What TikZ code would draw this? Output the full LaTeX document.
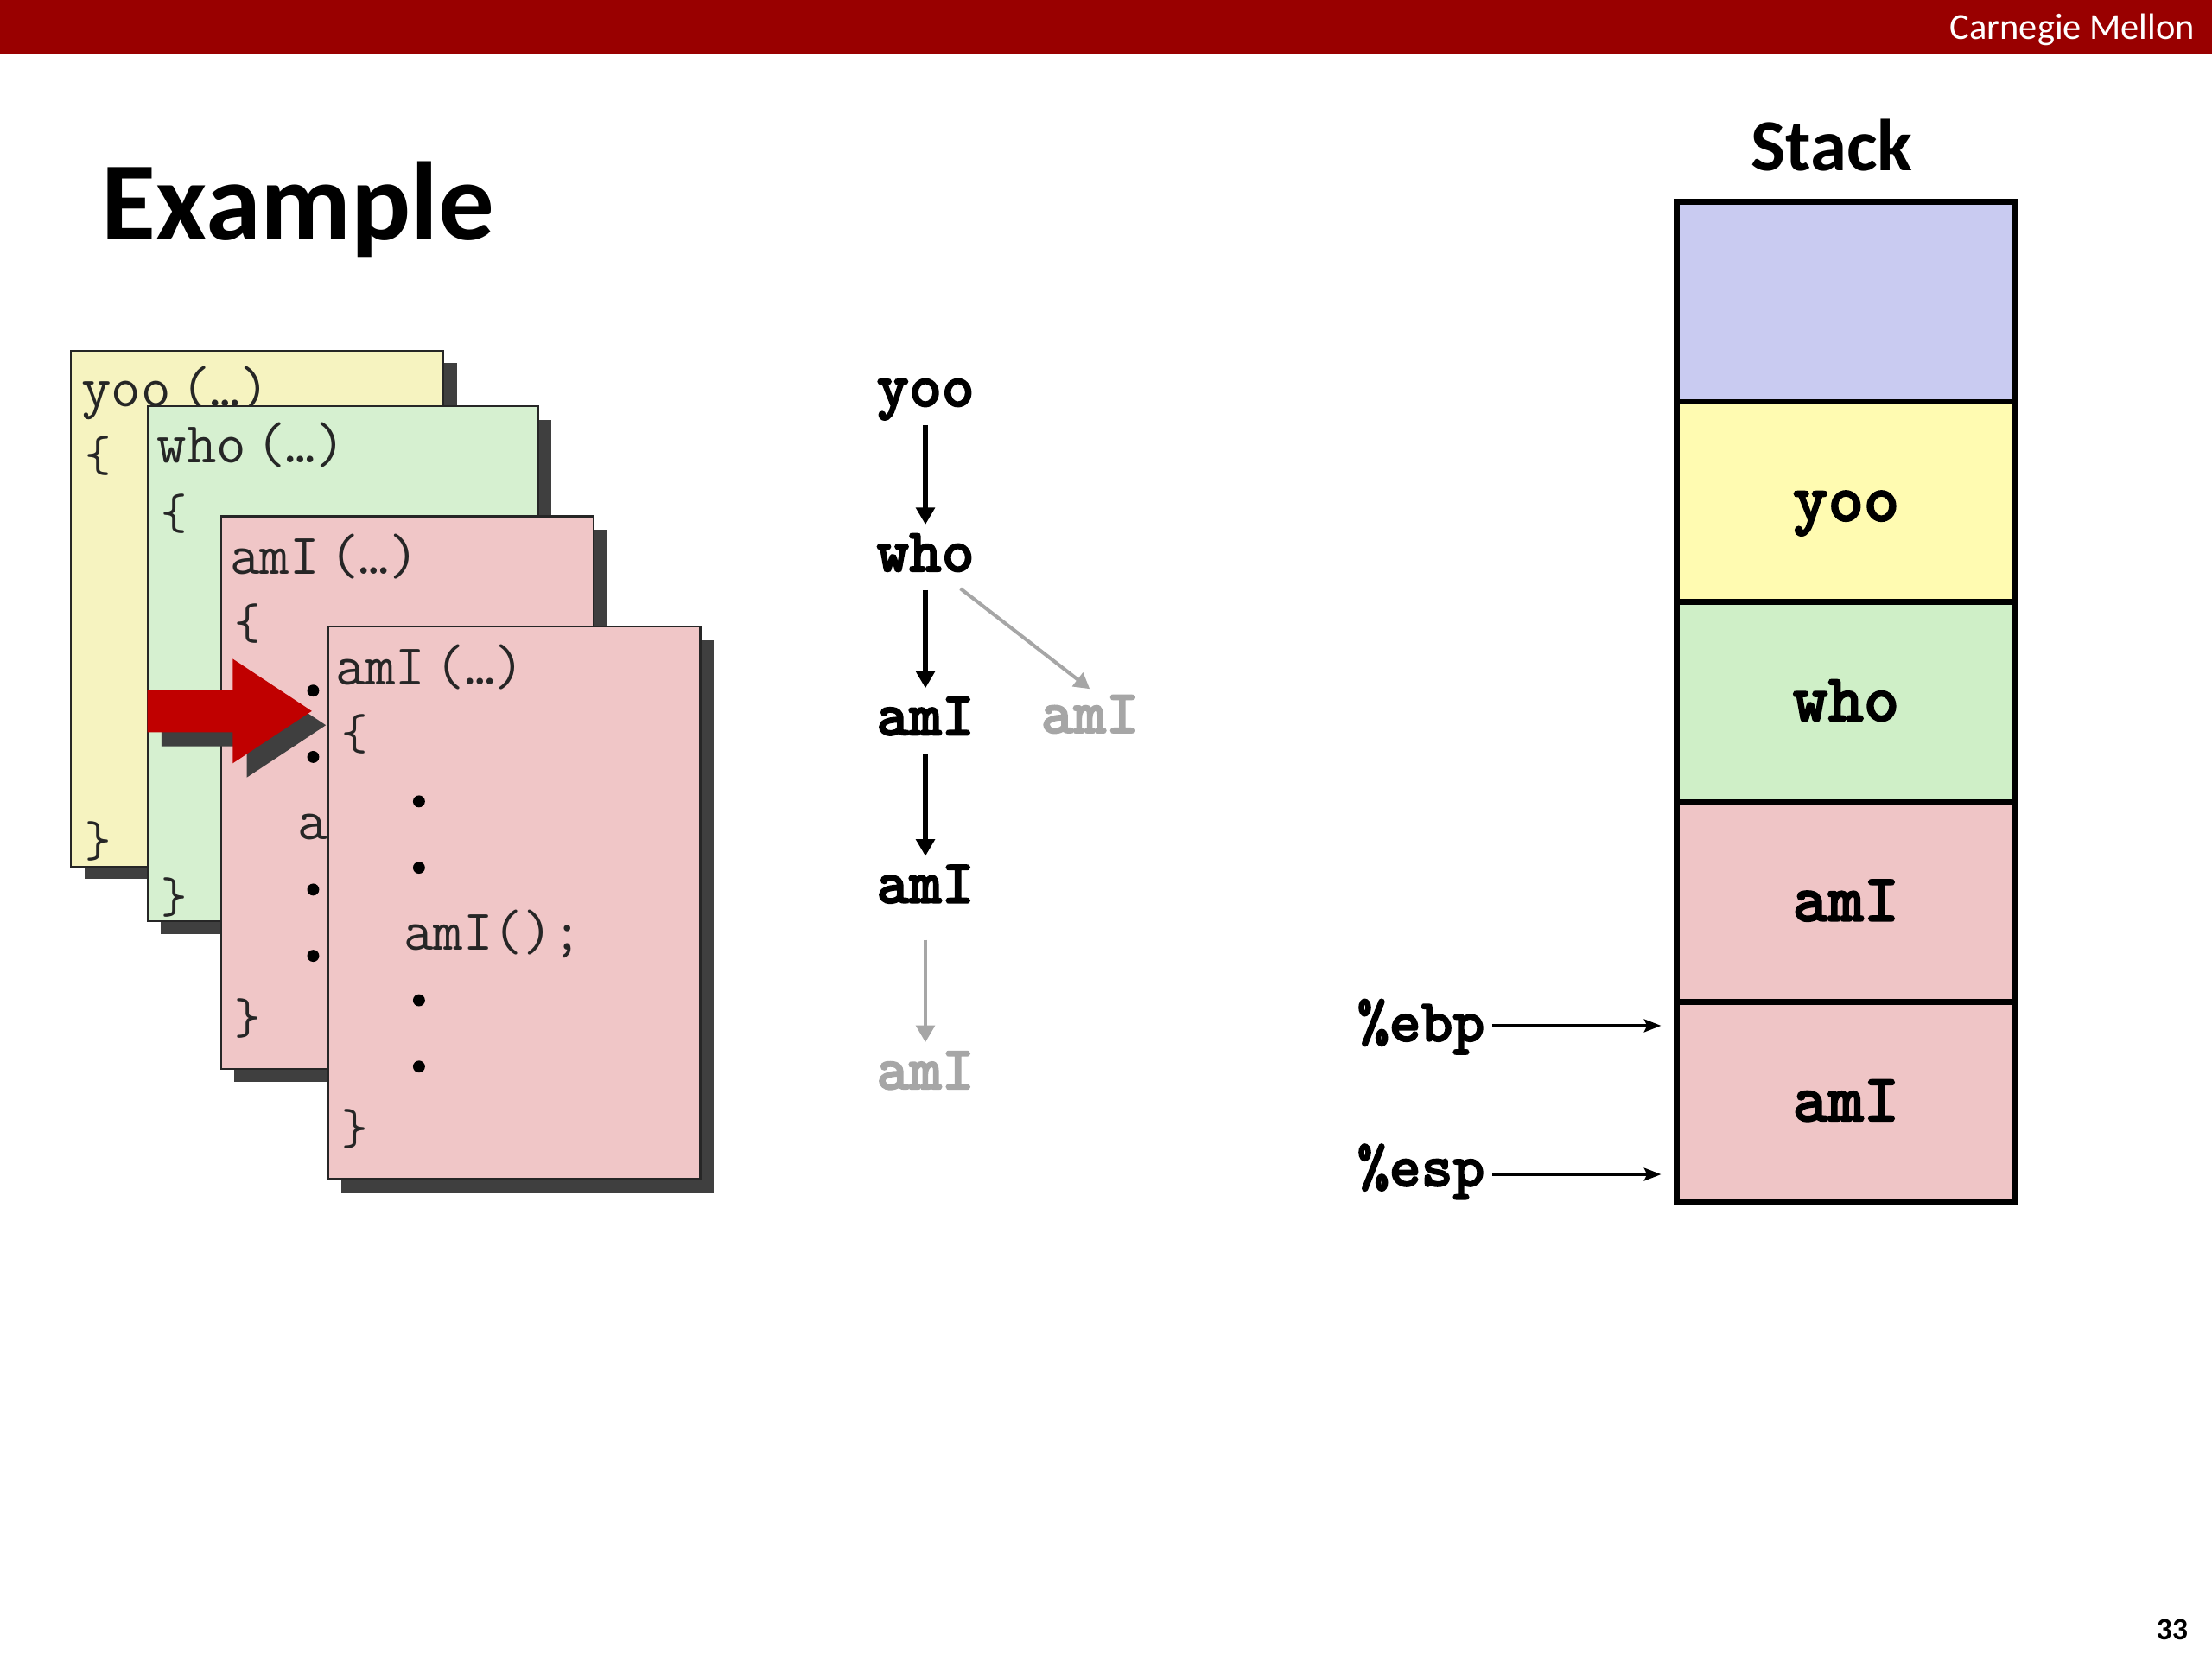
\documentclass[tikz,border=0pt]{standalone}
\usepackage{fontspec}
\setmainfont{Carlito}
\newfontfamily\bmono{lmmonolt10-bold.otf}[FakeBold=2.2]
\usetikzlibrary{arrows.meta}
\definecolor{barred}{HTML}{990000}
\definecolor{cardyel}{HTML}{F6F3C0}
\definecolor{cardgrn}{HTML}{D6F0D0}
\definecolor{cardpnk}{HTML}{F0C6C7}
\definecolor{stblue}{HTML}{C9CBF1}
\definecolor{styel}{HTML}{FFFBB1}
\definecolor{stgrn}{HTML}{CFEFC7}
\definecolor{stpnk}{HTML}{EFC5C6}
\definecolor{shadowgray}{HTML}{3F3F3F}
\definecolor{arrred}{HTML}{C00000}
\definecolor{lightgray}{HTML}{A6A6A6}
\newcommand{\argdots}{\kern7pt(…)}
\begin{document}
\begin{tikzpicture}[x=1pt,y=-1pt,
  card/.style={draw=black!85, line width=1.5pt, anchor=north west, inner sep=0pt},
  cardshadow/.style={fill=shadowgray, anchor=north west, inner sep=0pt},
  code/.style={font=\ttfamily\fontsize{41}{41}\selectfont, anchor=base west, inner sep=0pt, text=black!85},
  brace/.style={font=\ttfamily\fontsize{36}{36}\selectfont, anchor=base west, inner sep=0pt, text=black!85},
  codedot/.style={circle, fill=black, minimum size=8.5pt, inner sep=0pt},
  gnode/.style={font=\bmono\fontsize{44}{44}\selectfont, anchor=base, inner sep=0pt, text height=27pt, text depth=9pt},
  blackarrow/.style={draw=black, line width=3.5pt, -{Triangle[length=12pt,width=13pt]}},
  grayarrow/.style={draw=lightgray, line width=3pt, -{Triangle[length=12pt,width=13pt]}},
  vshort/.style={shorten <=4pt, shorten >=6pt},
  srow/.style={draw=black, line width=4pt, minimum width=240pt, minimum height=141.8pt, inner sep=0pt,
    font=\bmono\fontsize{48}{48}\selectfont, text height=30pt, text depth=3pt},
  reg/.style={font=\bmono\fontsize{43}{43}\selectfont, anchor=base west, inner sep=0pt, text height=22pt},
  regarrow/.style={draw=black, line width=2.5pt, -{Stealth[length=12pt,width=9pt,inset=2pt]}, shorten <=5pt, shorten >=9pt}
]
\useasboundingbox (0,0) rectangle (1568,1176);
\fill[white] (0,0) rectangle (1568,1176);
% header bar
\fill[barred] (0,0) rectangle (1568,38.5);
\node[anchor=base east, inner sep=0pt, text=white, font=\fontsize{26}{26}\selectfont] (cmu) at (1556,28) {Carnegie Mellon};
% title
\node[anchor=base west, inner sep=0pt, font=\bfseries\fontsize{79}{79}\selectfont] (title) at (72,170) {Example};
\node[anchor=base, inner sep=0pt, font=\bfseries\fontsize{52}{52}\selectfont] (stacktitle) at (1298.5,121) {Stack};
\node[anchor=base east, inner sep=0pt, font=\bfseries\fontsize{22}{22}\selectfont] (pagenum) at (1551,1162) {33};

% ---- card yoo
\node[cardshadow, minimum width=264pt, minimum height=366pt] (yooS) at (59.6,256.8) {};
\node[card, fill=cardyel, minimum width=264pt, minimum height=366pt] (yooC) at (49.6,247.8) {};
\node[code] (yooL1) at (57.5,288) {yoo\argdots};
\node[brace] (yooL2) at (60,334) {\{};
\node[brace] (yooL8) at (60,607) {\}};
% ---- card who
\node[cardshadow, minimum width=276.6pt, minimum height=365pt] (whoS) at (114,297.2) {};
\node[card, fill=cardgrn, minimum width=276.6pt, minimum height=365pt] (whoC) at (104,287.2) {};
\node[code] (whoL1) at (111,328) {who\argdots};
\node[brace] (whoL2) at (114,375) {\{};
\node[brace] (whoL8) at (114,647) {\}};
% ---- card amI 1
\node[cardshadow, minimum width=264pt, minimum height=391.7pt] (amaS) at (166,375.1) {};
\node[card, fill=cardpnk, minimum width=264pt, minimum height=391.7pt] (amaC) at (156,365.1) {};
\node[code] (amaL1) at (163,407) {amI\argdots};
\node[brace] (amaL2) at (166,453) {\{};
\node[codedot] (amaD3) at (222,489.5) {};
\node[codedot] (amaD4) at (222,536.5) {};
\node[code] (amaL5) at (211,595) {amI();};
\node[codedot] (amaD6) at (222,630.5) {};
\node[codedot] (amaD7) at (222,677.5) {};
\node[brace] (amaL8) at (166,733) {\}};
% ---- red arrow with shadow
\begin{scope}[shift={(10,10)}]
\fill[shadowgray] (104.5,489) -- (165,489) -- (165,467) -- (221,504) -- (165,541) -- (165,519) -- (104.5,519) -- cycle;
\end{scope}
\fill[arrred] (104.5,489) -- (165,489) -- (165,467) -- (221,504) -- (165,541) -- (165,519) -- (104.5,519) -- cycle;
% ---- card amI 2
\node[cardshadow, minimum width=263.6pt, minimum height=391.6pt] (ambS) at (242,453.4) {};
\node[card, fill=cardpnk, minimum width=263.6pt, minimum height=391.6pt] (ambC) at (232,443.4) {};
\node[code] (ambL1) at (238,485.5) {amI\argdots};
\node[brace] (ambL2) at (242,531.5) {\{};
\node[codedot] (ambD3) at (297,568) {};
\node[codedot] (ambD4) at (297,615) {};
\node[code] (ambL5) at (286,673.5) {amI();};
\node[codedot] (ambD6) at (297,709) {};
\node[codedot] (ambD7) at (297,756) {};
\node[brace] (ambL8) at (242,811) {\}};

% ---- call graph
\node[gnode] (g1) at (656,288) {yoo};
\node[gnode] (g2) at (656,405) {who};
\node[gnode] (g3) at (656,521) {amI};
\node[gnode, text=lightgray] (g3b) at (772.5,519.5) {amI};
\node[gnode] (g4) at (656,640) {amI};
\node[gnode, text=lightgray] (g5) at (656,772) {amI};
\draw[blackarrow, vshort] (g1.south) -- (g2.north);
\draw[blackarrow, vshort] (g2.south) -- (g3.north);
\draw[blackarrow, vshort] (g3.south) -- (g4.north);
\draw[grayarrow, shorten <=17pt, shorten >=6pt] (g4.south) -- (g5.north);
\draw[grayarrow, line width=2.5pt, -{Triangle[length=11pt,width=12pt]}] ([xshift=-10pt,yshift=-3pt]g2.south east) -- ([yshift=4pt]g3b.north);

% ---- stack
\node[srow, fill=stblue] (s0) at (1308.5,213.9) {};
\node[srow, fill=styel] (s1) at (1308.5,355.7) {yoo};
\node[srow, fill=stgrn] (s2) at (1308.5,497.5) {who};
\node[srow, fill=stpnk] (s3) at (1308.5,639.3) {amI};
\node[srow, fill=stpnk] (s4) at (1308.5,781.1) {amI};
\node[reg, text depth=0pt] (ebp) at (962,738) {\%ebp};
\node[reg, text depth=5.4pt] (esp) at (962,840.7) {\%esp};
\draw[regarrow] (ebp.east) -- (ebp.east -| s4.west);
\draw[regarrow] (esp.east) -- (esp.east -| s4.west);
\end{tikzpicture}
\end{document}
